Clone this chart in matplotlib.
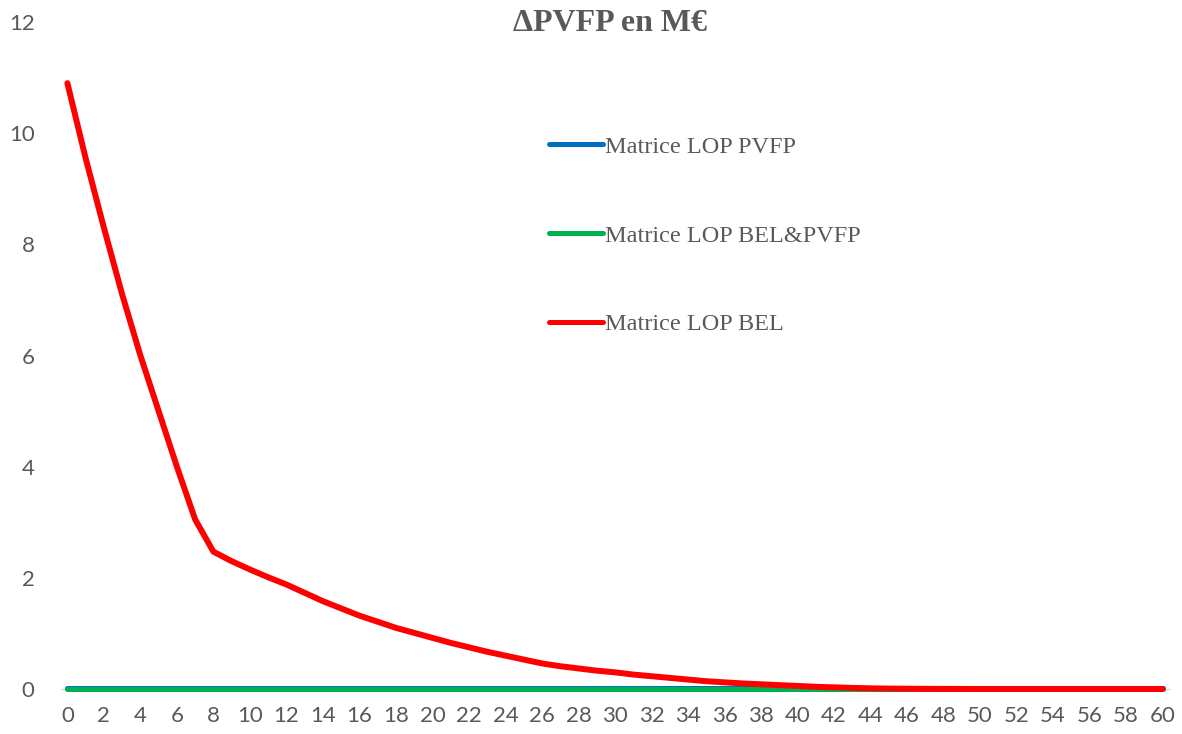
import matplotlib
matplotlib.use("Agg")
import matplotlib.pyplot as plt

# years of projection
years = list(range(0, 61))

# Matrice LOP BEL (red curve)
lop_bel = [10.9, 9.55, 8.3, 7.1, 6.0, 5.0, 4.0, 3.05, 2.47, 2.30,
           2.15, 2.01, 1.88, 1.73, 1.58, 1.45, 1.32, 1.21, 1.10, 1.01,
           0.92, 0.83, 0.75, 0.67, 0.60, 0.53, 0.46, 0.41, 0.37, 0.33,
           0.30, 0.26, 0.23, 0.20, 0.17, 0.14, 0.12, 0.10, 0.085, 0.07,
           0.055, 0.04, 0.03, 0.02, 0.012, 0.008, 0.005, 0.003, 0.002, 0.001,
           0, 0, 0, 0, 0, 0, 0, 0, 0, 0, 0]

# the two other matrices stay flat at (about) zero
lop_pvfp = [0.015] * 61
lop_bel_pvfp = [0.0] * 61

labels = ["Matrice LOP PVFP", "Matrice LOP BEL&PVFP", "Matrice LOP BEL"]
colors = ["#0070C0", "#00B050", "#FF0000"]
widths = [3.6, 3.6, 4.3]
xticks = list(range(0, 61, 2))
yticks = list(range(0, 13, 2))

GREY = "#595959"

fig = plt.figure(figsize=(11.82, 7.34), dpi=100)
ax = fig.add_axes([0.0516, 0.0613, 0.9374, 0.9087])

for vals, lab, col, lw in zip([lop_pvfp, lop_bel_pvfp, lop_bel], labels, colors, widths):
    ax.plot(years, vals, color=col, linewidth=lw, label=lab,
            solid_capstyle="round", clip_on=False, zorder=3)

ax.set_xlim(-0.35, 60.35)
ax.set_ylim(0, 12)
ax.set_xticks(xticks)
ax.set_yticks(yticks)
ax.tick_params(length=0, labelsize=16, labelcolor=GREY)
ax.tick_params(axis="x", pad=12)
ax.tick_params(axis="y", pad=19)
for lab in ax.get_xticklabels() + ax.get_yticklabels():
    lab.set_family("Lato")

for side in ["top", "right", "left"]:
    ax.spines[side].set_visible(False)
ax.spines["bottom"].set_color("#D9D9D9")
ax.spines["bottom"].set_linewidth(1.0)
ax.spines["bottom"].set_zorder(1)

fig.text(0.516, 0.968, "\u0394PVFP en M\u20ac", ha="center", va="center",
         fontsize=23, fontweight="bold", color=GREY, family="Liberation Serif")

leg = ax.legend(loc="upper left", bbox_to_anchor=(0.446, 0.845),
                bbox_transform=fig.transFigure, frameon=False,
                prop={"family": "Liberation Serif", "size": 17.5},
                handlelength=2.2, handletextpad=0.1, labelspacing=2.75)
for t in leg.get_texts():
    t.set_color(GREY)
for h in leg.get_lines():
    h.set_linewidth(3.6)

fig.savefig("out.png", dpi=100)
